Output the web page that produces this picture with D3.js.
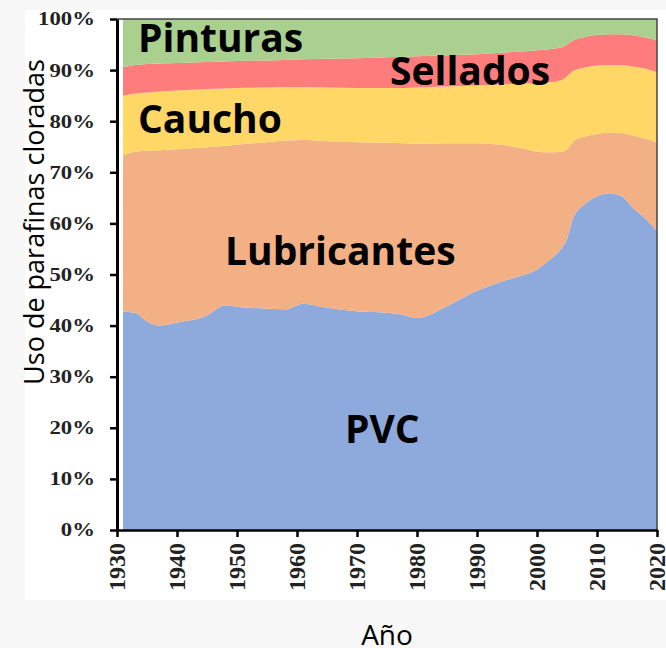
<!DOCTYPE html>
<html>
<head>
<meta charset="utf-8">
<script src="https://cdn.jsdelivr.net/npm/d3@7"></script>
<style>
  body { margin: 0; background: #f7f7f7; }
  .tick text { font-family: "Liberation Serif", serif; font-weight: bold; fill: #222; }
  .label { font-family: "Open Sans", sans-serif; font-weight: bold; font-size: 39px; fill: #000; }
  .axis-title { font-family: "Open Sans", sans-serif; fill: #000; }
</style>
</head>
<body>
<div id="chart"></div>
<script>
// Chart dimensions
var width  = 666;
var height = 648;
var margin = { top: 19, right: 9, bottom: 118, left: 117 };

// Years
var years = [1931, 1933, 1935, 1937, 1940, 1945, 1948, 1950, 1955, 1958,
             1961, 1965, 1970, 1975, 1978, 1980, 1985, 1990, 1994, 1998,
             2000, 2002, 2004, 2005, 2006, 2008, 2010, 2012, 2014, 2016,
             2018, 2020];

// Share (%) of each use, bottom to top
var pvc = [42.7, 42.5, 40.8, 40.0, 40.6, 42.0, 44.0, 43.7, 43.3, 43.2,
           44.3, 43.5, 42.8, 42.5, 42.0, 41.5, 43.8, 46.8, 48.6, 50.0,
           51.0, 52.8, 55.0, 57.0, 61.0, 63.8, 65.3, 65.9, 65.4, 63.0,
           61.0, 58.5];
var lubricantes = [30.6, 31.5, 33.4, 34.3, 33.9, 32.9, 31.2, 31.7, 32.6, 33.0,
                   32.0, 32.6, 33.1, 33.3, 33.7, 34.1, 31.9, 28.9, 26.8, 24.6,
                   23.0, 21.1, 19.0, 17.5, 15.0, 13.2, 12.2, 11.9, 12.3, 14.2,
                   15.6, 17.4];
var caucho = [11.7, 11.4, 11.4, 11.5, 11.5, 11.4, 11.2, 11.1, 10.7, 10.5,
              10.4, 10.5, 10.6, 10.7, 10.8, 11.0, 11.1, 11.3, 11.8, 12.8,
              13.5, 13.7, 14.0, 14.3, 13.8, 13.5, 13.4, 13.2, 13.3, 13.5,
              13.7, 13.7];
var sellados = [5.6, 5.6, 5.6, 5.5, 5.4, 5.3, 5.3, 5.3, 5.3, 5.3,
                5.4, 5.6, 5.8, 6.0, 6.1, 6.1, 6.1, 6.1, 6.2, 6.3,
                6.4, 6.5, 6.4, 6.2, 6.0, 6.0, 6.0, 6.0, 6.0, 6.1,
                6.1, 6.3];
var pinturas = [9.4, 9.0, 8.8, 8.7, 8.6, 8.4, 8.3, 8.2, 8.1, 8.0,
                7.9, 7.8, 7.7, 7.5, 7.4, 7.3, 7.1, 6.9, 6.6, 6.3,
                6.1, 5.9, 5.6, 5.0, 4.2, 3.5, 3.1, 3.0, 3.0, 3.2,
                3.6, 4.1];

var keys   = ['PVC', 'Lubricantes', 'Caucho', 'Sellados', 'Pinturas'];
var colors = ['#8eaadc', '#f2b084', '#fed766', '#fe7c7c', '#a9d08e'];

// Label placement in data units (year, %)
var labels = [{ name: 'Pinturas',    year: 1933.5, pct: 93.5 },
              { name: 'Sellados',    year: 1975.5, pct: 87.1 },
              { name: 'Caucho',      year: 1933.5, pct: 77.7 },
              { name: 'Lubricantes', year: 1948,   pct: 51.9 },
              { name: 'PVC',         year: 1968,   pct: 17.0 }];

var xTicks = d3.range(1930, 2021, 10);
var yTicks = d3.range(0, 101, 10);

// Build rows for the stack
var rows = years.map(function(y, i) {
    return { year: y, PVC: pvc[i], Lubricantes: lubricantes[i], Caucho: caucho[i],
             Sellados: sellados[i], Pinturas: pinturas[i] };
});

var series = d3.stack().keys(keys)(rows);

var x = d3.scaleLinear().domain([1930, 2020])
    .range([margin.left, width - margin.right]);
var y = d3.scaleLinear().domain([0, 100])
    .range([height - margin.bottom, margin.top]);

var svg = d3.select('#chart').append('svg')
    .attr('width', width)
    .attr('height', height);

// white sheet behind the figure
svg.append('rect')
    .attr('x', 25).attr('y', 10)
    .attr('width', width - 25).attr('height', 590)
    .attr('fill', '#fff');

var area = d3.area()
    .curve(d3.curveMonotoneX)
    .x(d => x(d.data.year))
    .y0(d => y(d[0]))
    .y1(d => y(d[1]));

svg.append('g')
    .selectAll('path')
    .data(series)
    .enter()
    .append('path')
    .attr('fill', (d, i) => colors[i])
    .attr('d', area);

// frame on top and right
svg.append('path')
    .attr('d', 'M' + x(1930) + ',' + y(100) + 'H' + x(2020) + 'V' + y(0))
    .attr('fill', 'none')
    .attr('stroke', '#444')
    .attr('stroke-width', 1.5);

// Axes
var yAxis = svg.append('g')
    .attr('transform', 'translate(' + x(1930) + ',0)')
    .call(d3.axisLeft(y).tickValues(yTicks).tickFormat(d => d + '%')
          .tickSize(7).tickPadding(11).tickSizeOuter(0));
yAxis.select('.domain').attr('stroke', '#000').attr('stroke-width', 3);
yAxis.selectAll('.tick line').attr('stroke', '#000').attr('stroke-width', 2.5);
// the source figure is stretched sideways, so widen the y labels
yAxis.selectAll('.tick text')
    .attr('font-size', 18.5)
    .attr('transform', 'scale(1.23,1)');

var xAxis = svg.append('g')
    .attr('transform', 'translate(0,' + y(0) + ')')
    .call(d3.axisBottom(x).tickValues(xTicks).tickFormat(d3.format('d'))
          .tickSize(7).tickSizeOuter(0));
xAxis.select('.domain').attr('stroke', '#000').attr('stroke-width', 2.5);
xAxis.selectAll('.tick line').attr('stroke', '#000').attr('stroke-width', 2.5);
xAxis.selectAll('.tick text')
    .attr('font-size', 24)
    .attr('transform', 'rotate(-90)')
    .attr('text-anchor', 'end')
    .attr('x', -13)
    .attr('y', 0)
    .attr('dy', '0.33em');

// Category labels
svg.append('g')
    .selectAll('text')
    .data(labels)
    .enter()
    .append('text')
    .attr('class', 'label')
    .attr('x', d => x(d.year))
    .attr('y', d => y(d.pct))
    .text(d => d.name);

// Axis titles
svg.append('text')
    .attr('class', 'axis-title')
    .attr('font-size', 27)
    .attr('text-anchor', 'middle')
    .attr('transform', 'translate(44,222)rotate(-90)')
    .text('Uso de parafinas cloradas');

svg.append('text')
    .attr('class', 'axis-title')
    .attr('font-size', 28)
    .attr('text-anchor', 'middle')
    .attr('x', (x(1930) + x(2020)) / 2)
    .attr('y', 645)
    .text('Año');
</script>
</body>
</html>
